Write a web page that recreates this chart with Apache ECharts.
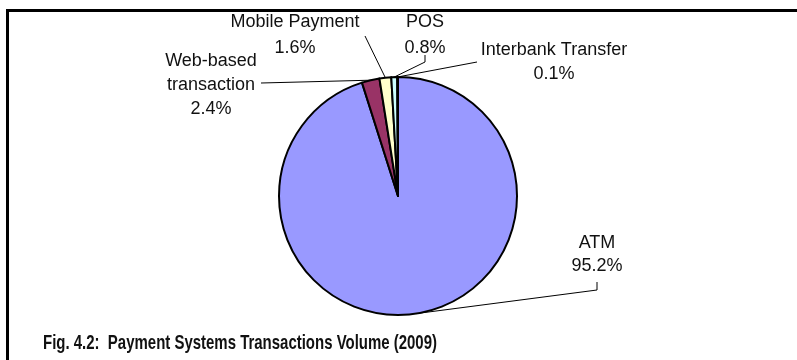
<!DOCTYPE html>
<html>
<head>
<meta charset="utf-8">
<style>
  html, body { margin: 0; padding: 0; background: #fff; }
  #chart { width: 797px; height: 360px; }
</style>
<script src="https://cdn.jsdelivr.net/npm/echarts@6/dist/echarts.min.js"></script>
</head>
<body>
<div id="chart"></div>
<script>
// Payment systems transaction volume shares, 2009 (percent)
const categories = ['ATM', 'Web-based\ntransaction', 'Mobile Payment', 'POS', 'Interbank Transfer'];
const shares = [95.2, 2.4, 1.6, 0.8, 0.1];
const sliceColors = ['#9999FF', '#993366', '#FFFFCC', '#CCFFFF', '#660066'];

const titleText = 'Fig. 4.2:  Payment Systems Transactions Volume (2009)';

// Label placement (text centre, line height) and leader-line bend points, per slice
const labelPlacement = [
  { x: 597, y: 255, lh: 23, bends: [[597, 290], [597, 282]] },
  { x: 211, y: 85, lh: 24, bends: [[261, 83], [261, 83]] },
  { x: 295, y: 35, lh: 26, bends: [[365, 36], [365, 36]] },
  { x: 425, y: 35, lh: 26, bends: [[425, 62], [425, 55]] },
  { x: 554, y: 62, lh: 24, bends: [[477, 62], [477, 62]] }
];

// The caption is set in a condensed bold face: squeeze a regular bold face to width
const titleFont = 'bold 21px "Liberation Sans", Arial, sans-serif';
const titleWidth = 394;
const measureCtx = document.createElement('canvas').getContext('2d');
measureCtx.font = titleFont;
const titleScale = titleWidth / measureCtx.measureText(titleText).width;

const chart = echarts.init(document.getElementById('chart'), null, { renderer: 'canvas' });

chart.setOption({
  animation: false,
  backgroundColor: '#fff',
  graphic: [
    { type: 'line', shape: { x1: 6, y1: 10.5, x2: 797, y2: 10.5 }, style: { stroke: '#000', lineWidth: 3 } },
    { type: 'line', shape: { x1: 7.5, y1: 9, x2: 7.5, y2: 360 }, style: { stroke: '#000', lineWidth: 3 } },
    {
      type: 'text',
      x: 43,
      y: 343,
      scaleX: titleScale,
      style: {
        text: titleText,
        font: titleFont,
        fill: '#111',
        verticalAlign: 'middle'
      }
    }
  ],
  series: [{
    type: 'pie',
    center: [398, 196],
    radius: 119,
    startAngle: 90,
    clockwise: true,
    avoidLabelOverlap: false,
    data: categories.map((name, i) => ({
      name: name,
      value: shares[i],
      itemStyle: { color: sliceColors[i] },
      label: { lineHeight: labelPlacement[i].lh }
    })),
    itemStyle: { borderColor: '#000', borderWidth: 2 },
    label: {
      show: true,
      formatter: p => p.name + '\n' + p.value.toFixed(1) + '%',
      fontFamily: '"Liberation Sans", Arial, sans-serif',
      fontSize: 18,
      lineHeight: 24,
      color: '#111',
      align: 'center'
    },
    labelLine: {
      show: true,
      smooth: false,
      lineStyle: { color: '#000', width: 1 }
    },
    labelLayout: params => {
      const lp = labelPlacement[params.dataIndex];
      const start = params.labelLinePoints ? params.labelLinePoints[0] : lp.bends[0];
      return {
        x: lp.x,
        y: lp.y,
        align: 'center',
        verticalAlign: 'middle',
        labelLinePoints: [start, lp.bends[0], lp.bends[1]]
      };
    },
    emphasis: { disabled: true }
  }]
});
</script>
</body>
</html>
